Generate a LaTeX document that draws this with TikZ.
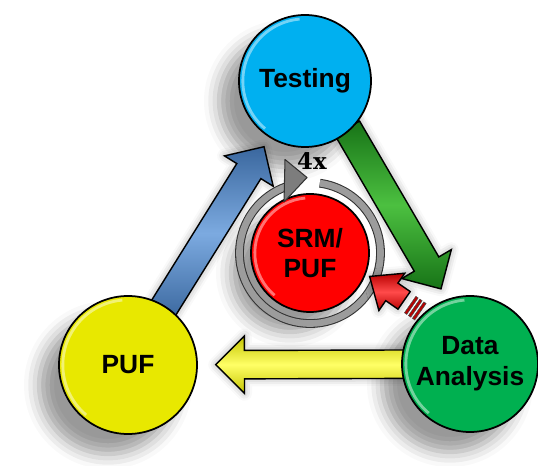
\documentclass[tikz,border=0pt]{standalone}
\usepackage{fontspec}
\newfontfamily\diafont{Liberation Sans}
\newfontfamily\numfont{DejaVu Serif}
\usetikzlibrary{shapes.arrows,shadows.blur}

\definecolor{testblue}{HTML}{00B0F0}
\definecolor{pufyellow}{HTML}{E8E800}
\definecolor{datagreen}{HTML}{00B050}
\definecolor{srmred}{HTML}{FF0000}
\definecolor{arrblue}{HTML}{3A679E}
\definecolor{arrbluelt}{HTML}{7CAAE0}
\definecolor{arrgreen}{HTML}{177317}
\definecolor{arrgreenlt}{HTML}{4CC040}
\definecolor{arryellow}{HTML}{C4C400}
\definecolor{arryellowlt}{HTML}{FFFF66}
\definecolor{arrred}{HTML}{B80000}
\definecolor{arrredlt}{HTML}{FF4A4A}
\definecolor{ringgray}{HTML}{9C9C9C}

\tikzset{
  softshadow/.style={blur shadow={shadow xshift=-0.4cm, shadow yshift=-0.4cm,
      shadow blur radius=0.3cm, shadow opacity=40}},
  glow/.style={blur shadow={shadow xshift=0pt, shadow yshift=0pt,
      shadow blur radius=0.15cm, shadow opacity=35}},
  bubble/.style={circle, draw=black, line width=1pt, inner sep=0pt, minimum size=#1,
    align=center, font=\diafont\bfseries\fontsize{15}{17.5}\selectfont,
    path picture={\draw[white, opacity=.45, line width=1.6pt]
      (path picture bounding box.center) ++(95:#1/2-2.2pt)
      arc[start angle=95, end angle=230, radius=#1/2-2.2pt];}},
  fatarrow/.style 2 args={single arrow, sloped, allow upside down, draw=black,
    line width=0.8pt, inner xsep=0pt, inner ysep=0.27cm, text height=0pt, text depth=0pt,
    minimum width=0pt, single arrow head extend=0.29cm, single arrow tip angle=90,
    top color=#1, bottom color=#1, middle color=#2, glow},
  ringline/.style={draw=black!80, line width=0.6pt, double=ringgray, double distance=3.8pt},
  ringhead/.style={fill=ringgray!80!black, draw=black!80, line width=0.6pt, line join=round},
  stripe/.style={rectangle, sloped, allow upside down, fill=arrred, draw=black!70,
    line width=0.3pt, inner sep=0pt, minimum width=1.6pt, minimum height=0.4cm},
}

\begin{document}
\begin{tikzpicture}
\useasboundingbox (0,0) rectangle (10.76,9.32);
% centres of the stages
\coordinate (testc) at (6.10,7.70);
\coordinate (pufc) at (2.56,2.02);
\coordinate (datac) at (9.40,2.04);
\coordinate (srmc) at (6.20,4.26);
% soft shadows under the stages
\foreach \c/\r in {testc/1.32, pufc/1.38, datac/1.36, srmc/1.18}
  \path[softshadow, fill=white] (\c) circle[radius=\r];
% big arrows of the cycle
\path (pufc) -- (testc)
  node[fatarrow={arrblue}{arrbluelt}, minimum height=3.9cm, pos=0.456] (up) {};
\path ([shift={(0.22,0.13)}]testc) -- ([shift={(0.22,0.13)}]datac)
  node[fatarrow={arrgreen}{arrgreenlt}, minimum height=3.72cm, pos=0.452] (down) {};
\path (datac) -- (pufc)
  node[fatarrow={arryellow}{arryellowlt}, minimum height=3.84cm, pos=0.442] (back) {};
% the four stages
\node[bubble=2.64cm, fill=testblue] (test) at (testc) {Testing};
\node[bubble=2.76cm, fill=pufyellow] (puf) at (pufc) {PUF};
\node[bubble=2.72cm, fill=datagreen] (data) at (datac) {Data\\Analysis};
\node[bubble=2.36cm, fill=srmred] (srm) at (srmc) {SRM/\\PUF};
% repeat ring round the centre
\draw[ringline] (srm.center) ++(82:1.41) arc[start angle=82, end angle=-250, radius=1.41];
\filldraw[ringhead] ([shift={(-0.50,1.87)}]srm.center) -- ([shift={(-0.06,1.51)}]srm.center)
  -- ([shift={(-0.52,1.02)}]srm.center) -- cycle;
\node[font=\numfont\bfseries\fontsize{13}{13}\selectfont] (times) at (6.24,6.10) {4x};
% feedback arrow into SRM/PUF
\path ([shift={(0.17,0.24)}]data.center) -- ([shift={(0.17,0.24)}]srm.center)
  node[fatarrow={arrred}{arrredlt}, inner ysep=0.2cm, single arrow head extend=0.24cm,
    single arrow tip angle=80, minimum height=0.84cm, pos=0.54] (feed) {};
\foreach \p [count=\i] in {0.37,0.395,0.42}
  \path ([shift={(0.17,0.24)}]data.center) -- ([shift={(0.17,0.24)}]srm.center)
    node[stripe, pos=\p] (stripe\i) {};
\end{tikzpicture}
\end{document}
